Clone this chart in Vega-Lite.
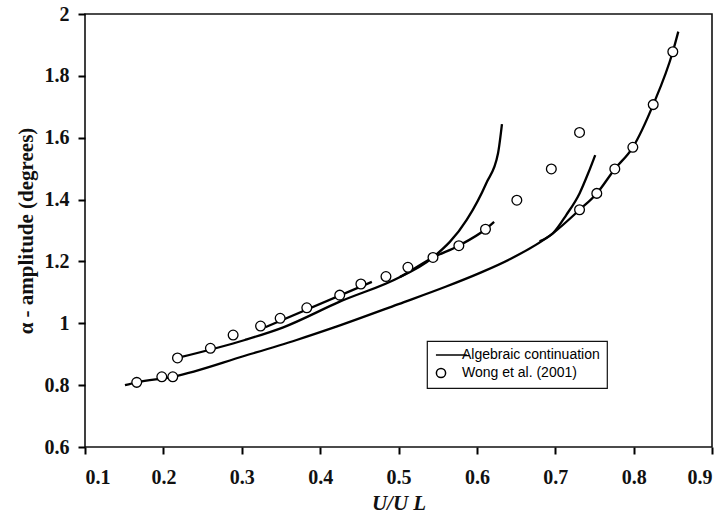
{
  "$schema": "https://vega.github.io/schema/vega-lite/v6.json",
  "width": 627,
  "height": 433,
  "autosize": {"type": "none"},
  "padding": {"left": 85, "top": 14, "right": 15, "bottom": 73},
  "background": "white",
  "config": {
    "view": {"stroke": "#111", "strokeWidth": 1.6, "fill": "transparent"},
    "axis": {
      "domain": false,
      "grid": false,
      "ticks": true,
      "tickColor": "#000",
      "tickWidth": 2,
      "tickSize": 7,
      "labelFont": "Liberation Serif",
      "labelFontWeight": "bold",
      "labelFontSize": 20,
      "labelColor": "#111",
      "titleFont": "Liberation Serif",
      "titleFontWeight": "bold",
      "titleFontSize": 21,
      "titleColor": "#111"
    },
    "legend": {"strokeColor": "#111", "strokeWidth": 1.2}
  },
  "datasets": {
    "curves": [
      {"curve": "A", "x": 0.151, "y": 0.800},
      {"curve": "A", "x": 0.166, "y": 0.809},
      {"curve": "A", "x": 0.212, "y": 0.827},
      {"curve": "A", "x": 0.304, "y": 0.895},
      {"curve": "A", "x": 0.370, "y": 0.946},
      {"curve": "A", "x": 0.416, "y": 0.985},
      {"curve": "A", "x": 0.500, "y": 1.062},
      {"curve": "A", "x": 0.560, "y": 1.118},
      {"curve": "A", "x": 0.604, "y": 1.163},
      {"curve": "A", "x": 0.642, "y": 1.207},
      {"curve": "A", "x": 0.697, "y": 1.291},
      {"curve": "A", "x": 0.731, "y": 1.367},
      {"curve": "A", "x": 0.753, "y": 1.420},
      {"curve": "A", "x": 0.776, "y": 1.499},
      {"curve": "A", "x": 0.799, "y": 1.569},
      {"curve": "A", "x": 0.825, "y": 1.707},
      {"curve": "A", "x": 0.850, "y": 1.878},
      {"curve": "A", "x": 0.857, "y": 1.943},
      {"curve": "B", "x": 0.218, "y": 0.888},
      {"curve": "B", "x": 0.304, "y": 0.946},
      {"curve": "B", "x": 0.353, "y": 0.987},
      {"curve": "B", "x": 0.425, "y": 1.070},
      {"curve": "B", "x": 0.502, "y": 1.150},
      {"curve": "B", "x": 0.544, "y": 1.213},
      {"curve": "B", "x": 0.577, "y": 1.251},
      {"curve": "B", "x": 0.611, "y": 1.304},
      {"curve": "B", "x": 0.622, "y": 1.328},
      {"curve": "C", "x": 0.502, "y": 1.150},
      {"curve": "C", "x": 0.544, "y": 1.213},
      {"curve": "C", "x": 0.587, "y": 1.334},
      {"curve": "C", "x": 0.612, "y": 1.453},
      {"curve": "C", "x": 0.627, "y": 1.550},
      {"curve": "C", "x": 0.632, "y": 1.644},
      {"curve": "D", "x": 0.330, "y": 0.987},
      {"curve": "D", "x": 0.466, "y": 1.134},
      {"curve": "E", "x": 0.680, "y": 1.265},
      {"curve": "E", "x": 0.697, "y": 1.291},
      {"curve": "E", "x": 0.714, "y": 1.350},
      {"curve": "E", "x": 0.731, "y": 1.420},
      {"curve": "E", "x": 0.742, "y": 1.485},
      {"curve": "E", "x": 0.751, "y": 1.544}
    ],
    "wong": [
      {"series": "Wong et al. (2001)", "x": 0.166, "y": 0.809},
      {"series": "Wong et al. (2001)", "x": 0.198, "y": 0.827},
      {"series": "Wong et al. (2001)", "x": 0.212, "y": 0.827},
      {"series": "Wong et al. (2001)", "x": 0.218, "y": 0.888},
      {"series": "Wong et al. (2001)", "x": 0.260, "y": 0.919},
      {"series": "Wong et al. (2001)", "x": 0.289, "y": 0.962},
      {"series": "Wong et al. (2001)", "x": 0.324, "y": 0.991},
      {"series": "Wong et al. (2001)", "x": 0.349, "y": 1.016},
      {"series": "Wong et al. (2001)", "x": 0.383, "y": 1.050},
      {"series": "Wong et al. (2001)", "x": 0.425, "y": 1.091},
      {"series": "Wong et al. (2001)", "x": 0.452, "y": 1.127},
      {"series": "Wong et al. (2001)", "x": 0.484, "y": 1.151},
      {"series": "Wong et al. (2001)", "x": 0.512, "y": 1.181},
      {"series": "Wong et al. (2001)", "x": 0.544, "y": 1.213},
      {"series": "Wong et al. (2001)", "x": 0.577, "y": 1.251},
      {"series": "Wong et al. (2001)", "x": 0.611, "y": 1.304},
      {"series": "Wong et al. (2001)", "x": 0.651, "y": 1.398},
      {"series": "Wong et al. (2001)", "x": 0.695, "y": 1.499},
      {"series": "Wong et al. (2001)", "x": 0.731, "y": 1.617},
      {"series": "Wong et al. (2001)", "x": 0.731, "y": 1.367},
      {"series": "Wong et al. (2001)", "x": 0.753, "y": 1.420},
      {"series": "Wong et al. (2001)", "x": 0.776, "y": 1.499},
      {"series": "Wong et al. (2001)", "x": 0.799, "y": 1.569},
      {"series": "Wong et al. (2001)", "x": 0.825, "y": 1.707},
      {"series": "Wong et al. (2001)", "x": 0.850, "y": 1.878}
    ]
  },
  "layer": [
    {
      "data": {"name": "curves"},
      "mark": {"type": "line", "color": "#000", "strokeWidth": 2.3, "interpolate": "monotone"},
      "encoding": {
        "x": {
          "field": "x", "type": "quantitative",
          "scale": {"domain": [0.1, 0.9], "nice": false, "zero": false},
          "axis": {
            "values": [0.1, 0.2, 0.3, 0.4, 0.5, 0.6, 0.7, 0.8, 0.9], "format": ".1f",
            "zindex": 1,
            "labelPadding": 13, "title": "U/U L", "titleFontStyle": "italic", "titlePadding": 5,
            "encode": {
              "ticks": {
                "update": {
                  "x": {"scale": "x", "field": "value"},
                  "y": {"value": 0},
                  "y2": {"value": -7},
                  "opacity": {"value": 1},
                  "stroke": {"value": "#000"},
                  "strokeWidth": {"value": 2}
                }
              }
            }
          }
        },
        "y": {
          "field": "y", "type": "quantitative",
          "scale": {"domain": [0.6, 2.0], "nice": false, "zero": false},
          "axis": {
            "values": [0.6, 0.8, 1.0, 1.2, 1.4, 1.6, 1.8, 2.0], "format": "~g",
            "zindex": 1,
            "labelPadding": 9, "title": "α - amplitude (degrees)", "titlePadding": 8,
            "encode": {
              "ticks": {
                "update": {
                  "y": {"scale": "y", "field": "value"},
                  "x": {"value": 0},
                  "x2": {"value": 7},
                  "opacity": {"value": 1},
                  "stroke": {"value": "#000"},
                  "strokeWidth": {"value": 2}
                }
              }
            }
          }
        },
        "detail": {"field": "curve"}
      }
    },
    {
      "data": {"name": "wong"},
      "mark": {"type": "point", "filled": true, "fill": "white", "stroke": "#000", "strokeWidth": 1.3, "size": 95, "opacity": 1},
      "encoding": {
        "x": {"field": "x", "type": "quantitative"},
        "y": {"field": "y", "type": "quantitative"},
        "shape": {
          "field": "series", "type": "nominal",
          "scale": {"domain": ["Algebraic continuation", "Wong et al. (2001)"], "range": ["M-1.1,0H5.6", "circle"]},
          "legend": {
            "title": null,
            "orient": "none",
            "legendX": 342,
            "legendY": 327,
            "direction": "vertical",
            "fillColor": "white",
            "padding": 7,
            "rowPadding": 3,
            "labelFont": "Liberation Sans",
            "labelFontSize": 14,
            "labelColor": "#000",
            "symbolSize": 85,
            "labelOffset": 14,
            "encode": {
              "symbols": {
                "update": {
                  "strokeWidth": {"signal": "datum.value === 'Algebraic continuation' ? 2.6 : 1.2"},
                  "stroke": {"value": "#000"},
                  "fill": {"value": "white"}
                }
              }
            }
          }
        }
      }
    }
  ]
}
